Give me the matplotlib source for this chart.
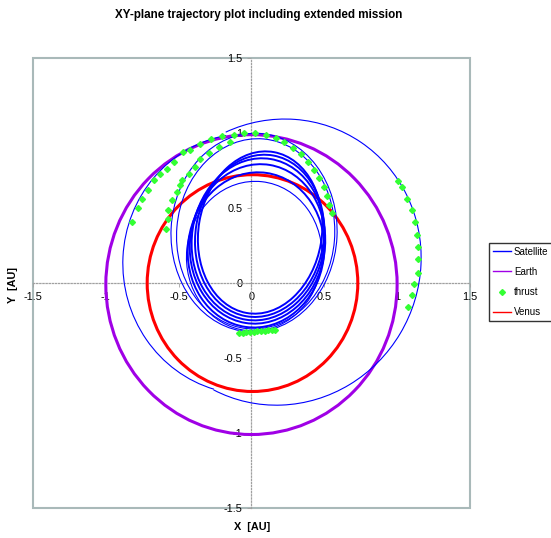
import matplotlib
import numpy as np

matplotlib.use("Agg")
import matplotlib.pyplot as plt  # noqa: E402
from matplotlib.patches import Ellipse, Arc  # noqa: E402
from matplotlib.lines import Line2D  # noqa: E402

plt.rcParams["font.family"] = ["Liberation Sans", "DejaVu Sans"]

# planet orbits: (centre x, centre y, radius) [AU]
earth = (0.0, -0.01, 1.0)
venus = (0.007, 0.0, 0.723)

# satellite revolutions as Kepler ellipses (Sun at a focus):
# perihelion q, aphelion Q [AU], apse-line tilt [deg], line width
loop_q = [0.202, 0.224, 0.247, 0.269, 0.295, 0.318, 0.325, 0.305]
loop_Q = [0.887, 0.864, 0.838, 0.798, 0.742, 0.680, 1.000, 0.965]
loop_tilt = [-10, -10, -9, -9, -8, -6, -3, -5]
loop_lw = [1.4, 1.4, 1.4, 1.4, 1.4, 0.8, 0.8, 0.8]

# big loop reaching beyond Earth, two elliptic arcs:
# centre x, centre y, width, height, rotation [deg], start / end angle [deg]
arc_cx = [0.20, -0.023]
arc_cy = [0.14, 0.128]
arc_w = [1.95, 1.74]
arc_h = [1.888, 1.72]
arc_rot = [35, 100]
arc_t1 = [206.6, 0.0]
arc_t2 = [438.5, 154.3]

# thrust points [AU]
thrust_x = [1.008, 1.033, 1.069, 1.10, 1.124, 1.138, 1.145, 1.145, 1.141, 1.117, 1.10, 1.072,
            0.026, 0.097, 0.168, 0.225, 0.287, 0.338, 0.386, 0.429, 0.465, 0.498, 0.516, 0.534, 0.55,
            -0.82, -0.78, -0.75, -0.71, -0.67, -0.63, -0.58, -0.53, -0.47, -0.42, -0.35, -0.28, -0.2, -0.12, -0.05,
            -0.587, -0.575, -0.571, -0.548, -0.513, -0.49, -0.475, -0.43, -0.39, -0.35, -0.29, -0.22, -0.15,
            -0.084, -0.06, -0.035, -0.01, 0.015, 0.04, 0.065, 0.09, 0.115, 0.14, 0.161]
thrust_y = [0.68, 0.642, 0.562, 0.487, 0.405, 0.32, 0.238, 0.158, 0.069, -0.007, -0.078, -0.158,
            0.998, 0.985, 0.967, 0.938, 0.898, 0.858, 0.805, 0.753, 0.698, 0.642, 0.58, 0.52, 0.465,
            0.41, 0.50, 0.56, 0.62, 0.69, 0.73, 0.76, 0.81, 0.875, 0.89, 0.93, 0.96, 0.98, 0.99, 1.0,
            0.364, 0.43, 0.487, 0.553, 0.609, 0.653, 0.687, 0.73, 0.775, 0.83, 0.87, 0.91, 0.94,
            -0.33, -0.33, -0.328, -0.326, -0.324, -0.322, -0.32, -0.318, -0.316, -0.314, -0.312]

ticks = [-1.5, -1, -0.5, 0, 0.5, 1, 1.5]
tick_labels = ["-1.5", "-1", "-0.5", "0", "0.5", "1", "1.5"]

SAT = "#0000ff"
EARTH = "#a000e6"
VENUS = "#ff0000"
THRUST = "#33ff33"

fig = plt.figure(figsize=(5.51, 5.38), dpi=100)
ax = fig.add_axes([0.0599, 0.0558, 0.793, 0.836])
ax.set_xlim(-1.5, 1.5)
ax.set_ylim(-1.5, 1.5)

# planet orbits
for (cx, cy, r), col in [(earth, EARTH), (venus, VENUS)]:
    ax.add_patch(Ellipse((cx, cy), 2 * r, 2 * r, fill=False, ec=col, lw=2.2, zorder=3))

# satellite loops
for q, Q, t, lw in zip(loop_q, loop_Q, loop_tilt, loop_lw):
    a = (q + Q) / 2
    c = (Q - q) / 2
    b = np.sqrt(a * a - c * c)
    th = np.radians(t)
    ax.add_patch(Ellipse((-c * np.sin(th), c * np.cos(th)), 2 * b, 2 * a, angle=t,
                         fill=False, ec=SAT, lw=lw, zorder=4))
for cx, cy, w, h, rot, t1, t2 in zip(arc_cx, arc_cy, arc_w, arc_h, arc_rot, arc_t1, arc_t2):
    ax.add_patch(Arc((cx, cy), w, h, angle=rot, theta1=t1, theta2=t2, ec=SAT, lw=0.8, zorder=4))

ax.plot(thrust_x, thrust_y, "D", color=THRUST, ms=3, mec=THRUST, zorder=5)

# axes through the origin, frame round the plot area
for s in ["top", "right"]:
    ax.spines[s].set_visible(False)
for s in ["left", "bottom"]:
    ax.spines[s].set_position("zero")
    ax.spines[s].set_linestyle((0, (1, 1.5)))
    ax.spines[s].set_color("#a0a0a0")
    ax.spines[s].set_linewidth(0.9)
ax.patch.set_edgecolor("#a9b9b9")
ax.patch.set_linewidth(1.5)
ax.set_xticks(ticks)
ax.set_xticklabels(tick_labels)
ax.set_yticks(ticks)
ax.set_yticklabels(tick_labels)
ax.tick_params(length=3, width=0.6, color="#a0a0a0", labelsize=7.8, pad=3.5)

fig.text(0.47, 0.972, "XY-plane trajectory plot including extended mission",
         ha="center", va="center", fontsize=8.4, fontweight="bold")
fig.text(0.457, 0.02, "X  [AU]", ha="center", va="center", fontsize=7.8, fontweight="bold")
fig.text(0.024, 0.47, "Y  [AU]", ha="center", va="center", fontsize=7.8,
         fontweight="bold", rotation=90)

handles = [Line2D([], [], color=SAT, lw=1),
           Line2D([], [], color=EARTH, lw=1),
           Line2D([], [], ls="none", marker="D", color=THRUST, ms=3),
           Line2D([], [], color=VENUS, lw=1)]
fig.legend(handles, ["Satellite", "Earth", "thrust", "Venus"], loc="upper left",
           bbox_to_anchor=(0.887, 0.549), borderaxespad=0, frameon=True, fancybox=False,
           edgecolor="black", fontsize=7, handlelength=1.9, borderpad=0.4,
           labelspacing=1.05, handletextpad=0.3)

fig.savefig("out.png", dpi=100)
